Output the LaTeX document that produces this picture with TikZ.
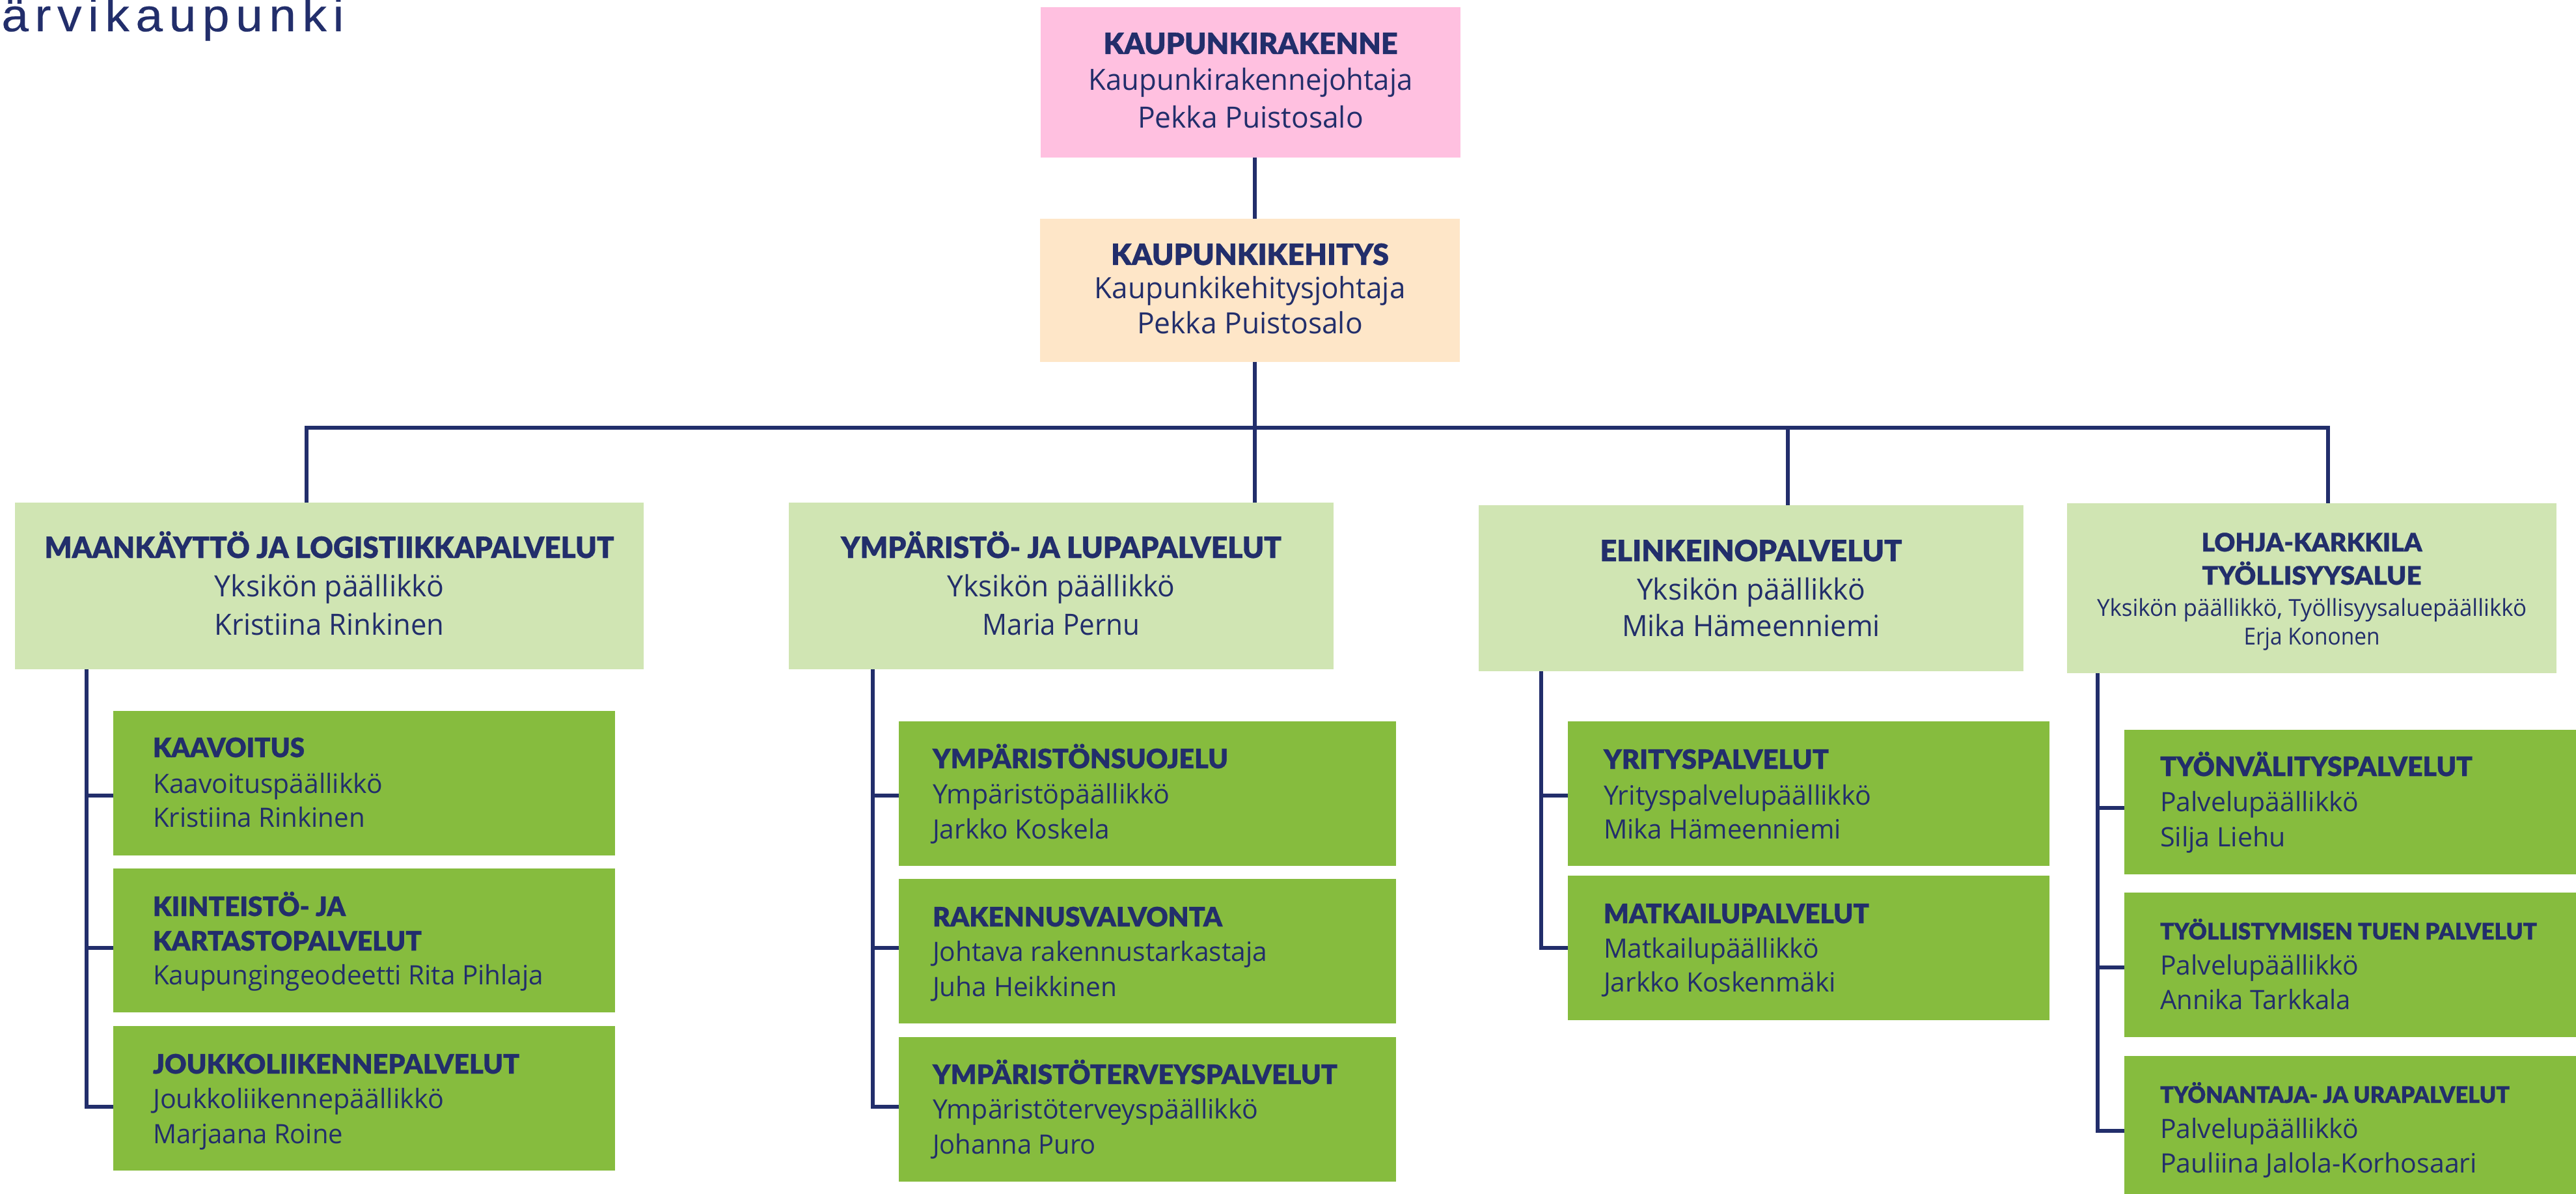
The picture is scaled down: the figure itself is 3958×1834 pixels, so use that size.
\documentclass[tikz,border=0pt]{standalone}
\usepackage{graphicx}
\usepackage{fontspec}
\newfontfamily\titlef[FakeBold=0.7]{Lato Black}
\newfontfamily\bodyf{Open Sans}
\newfontfamily\logof[LetterSpace=13,FakeBold=0.3]{Liberation Sans}
\definecolor{navy}{HTML}{222E6B}
\definecolor{pinkc}{HTML}{FFC0E0}
\definecolor{peachc}{HTML}{FEE6C8}
\definecolor{lightg}{HTML}{D0E5B3}
\definecolor{greenc}{HTML}{86BC3E}
\newdimen\pxu \pxu=0.5pt
\newcommand\tA{\fontsize{22.5}{27}\titlef}
\newcommand\bA{\fontsize{22.5}{27}\bodyf}
\newcommand\tB{\fontsize{20.5}{25}\titlef}
\newcommand\bB{\fontsize{20.5}{25}\bodyf}
\newcommand\tC{\fontsize{19.5}{24}\titlef}
\newcommand\bC{\fontsize{18}{22}\bodyf}
\newcommand\tD{\fontsize{17.5}{22}\titlef}
\def\lpad{55}
\newcommand\linC[4]{\hbox to\hsize{\hss\smash{\resizebox{#3\pxu}{\height}{#1\relax#4}}\hss\vrule height #2\pxu depth0pt width0pt}}
\newcommand\linL[4]{\hbox to\hsize{\hskip\lpad\pxu\smash{\resizebox{#3\pxu}{\height}{#1\relax#4}}\hss\vrule height #2\pxu depth0pt width0pt}}
\newcommand\orgbox[7]{%
  \pgfmathsetlengthmacro\bw{(#5-#3)*0.5pt}%
  \pgfmathsetlengthmacro\bh{(#6-#4)*0.5pt}%
  \node[#2] (#1) at (#3,#4) {\vbox to \bh{\hsize=\bw\offinterlineskip #7\vss}};}
\tikzset{
  base/.style={anchor=north west,inner sep=0pt,outer sep=0pt,text=navy},
  pinkbox/.style={base,fill=pinkc},
  peachbox/.style={base,fill=peachc},
  unitbox/.style={base,fill=lightg},
  subbox/.style={base,fill=greenc},
  conn/.style={draw=navy,line width=3.4pt,line join=miter}
}
\begin{document}
\begin{tikzpicture}[x=0.5pt,y=-0.5pt]
\useasboundingbox (0,0) rectangle (3958,1834);
\node[anchor=base west,inner sep=0pt,text=navy] (logo) at (2,48) {\resizebox{526\pxu}{\height}{\fontsize{35.5}{40}\logof ärvikaupunki}};

\orgbox{top}{pinkbox}{1599}{11}{2244}{242}{\linC\tA{72}{452}{KAUPUNKIRAKENNE}\linC\bA{56}{498}{Kaupunkirakennejohtaja}\linC\bA{58}{347}{Pekka Puistosalo}}
\orgbox{mid}{peachbox}{1598}{336}{2243}{556}{\linC\tA{71}{427}{KAUPUNKIKEHITYS}\linC\bA{52}{478}{Kaupunkikehitysjohtaja}\linC\bA{54}{347}{Pekka Puistosalo}}

\orgbox{ua}{unitbox}{23}{772}{989}{1028}{\linC\tA{85}{875}{MAANKÄYTTÖ JA LOGISTIIKKAPALVELUT}\linC\bA{59}{352}{Yksikön päällikkö}\linC\bA{59}{353}{Kristiina Rinkinen}}
\orgbox{ub}{unitbox}{1212}{772}{2049}{1028}{\linC\tA{85}{677}{YMPÄRISTÖ- JA LUPAPALVELUT}\linC\bA{59}{350}{Yksikön päällikkö}\linC\bA{59}{242}{Maria Pernu}}
\orgbox{uc}{unitbox}{2272}{776}{3109}{1031}{\linC\tA{86}{464}{ELINKEINOPALVELUT}\linC\bA{59}{351}{Yksikön päällikkö}\linC\bA{56}{397}{Mika Hämeenniemi}}
\orgbox{ud}{unitbox}{3176}{773}{3928}{1034}{\linC\tC{74}{339}{LOHJA-KARKKILA}\linC\tC{51}{337}{TYÖLLISYYSALUE}\linC\bC{48}{660}{Yksikön päällikkö, Työllisyysaluepäällikkö}\linC\bC{44}{209}{Erja Kononen}}

\def\lpad{61}
\orgbox{sa1}{subbox}{174}{1092}{945}{1314}{\linL\tB{71}{233}{KAAVOITUS}\linL\bB{55}{353}{Kaavoituspäällikkö}\linL\bB{52}{326}{Kristiina Rinkinen}}
\orgbox{sa2}{subbox}{174}{1334}{945}{1555}{\linL\tB{73}{296}{KIINTEISTÖ- JA}\linL\tB{53}{413}{KARTASTOPALVELUT}\linL\bB{52}{600}{Kaupungingeodeetti Rita Pihlaja}}
\orgbox{sa3}{subbox}{174}{1576}{945}{1798}{\linL\tB{73}{563}{JOUKKOLIIKENNEPALVELUT}\linL\bB{53}{447}{Joukkoliikennepäällikkö}\linL\bB{54}{292}{Marjaana Roine}}
\def\lpad{52}
\orgbox{sb1}{subbox}{1381}{1108}{2145}{1330}{\linL\tB{72}{454}{YMPÄRISTÖNSUOJELU}\linL\bB{54}{364}{Ympäristöpäällikkö}\linL\bB{54}{272}{Jarkko Koskela}}
\orgbox{sb2}{subbox}{1381}{1350}{2145}{1572}{\linL\tB{73}{445}{RAKENNUSVALVONTA}\linL\bB{53}{514}{Johtava rakennustarkastaja}\linL\bB{54}{283}{Juha Heikkinen}}
\orgbox{sb3}{subbox}{1381}{1593}{2145}{1815}{\linL\tB{72}{622}{YMPÄRISTÖTERVEYSPALVELUT}\linL\bB{53}{500}{Ympäristöterveyspäällikkö}\linL\bB{54}{251}{Johanna Puro}}
\def\lpad{55}
\orgbox{sc1}{subbox}{2409}{1108}{3149}{1330}{\linL\tB{73}{346}{YRITYSPALVELUT}\linL\bB{55}{411}{Yrityspalvelupäällikkö}\linL\bB{52}{365}{Mika Hämeenniemi}}
\orgbox{sc2}{subbox}{2409}{1345}{3149}{1567}{\linL\tB{73}{408}{MATKAILUPALVELUT}\linL\bB{53}{331}{Matkailupäällikkö}\linL\bB{52}{357}{Jarkko Koskenmäki}}
\orgbox{sd1}{subbox}{3264}{1121}{3958}{1343}{\linL\tB{71}{480}{TYÖNVÄLITYSPALVELUT}\linL\bB{54}{305}{Palvelupäällikkö}\linL\bB{54}{193}{Silja Liehu}}
\orgbox{sd2}{subbox}{3264}{1371}{3958}{1593}{\linL\tD{72}{579}{TYÖLLISTYMISEN TUEN PALVELUT}\linL\bB{54}{305}{Palvelupäällikkö}\linL\bB{53}{293}{Annika Tarkkala}}
\orgbox{sd3}{subbox}{3264}{1622}{3958}{1834}{\linL\tD{72}{537}{TYÖNANTAJA- JA URAPALVELUT}\linL\bB{54}{305}{Palvelupäällikkö}\linL\bB{53}{487}{Pauliina Jalola-Korhosaari}}

\coordinate (stem) at (1928,657);
\coordinate (busa) at (471,657);
\coordinate (busc) at (2747,657);
\coordinate (busd) at (3577,657);
\draw[conn] (top.south -| stem) -- (mid.north -| stem);
\draw[conn] (mid.south -| stem) -- (ub.north -| stem);
\draw[conn] (busa |- ua.north) -- (busa) -- (busd) -- (busd |- ud.north);
\draw[conn] (busc) -- (busc |- uc.north);

\coordinate (a1) at (133,1222); \coordinate (a2) at (133,1456); \coordinate (a3) at (133,1700);
\coordinate (b1) at (1341,1222); \coordinate (b2) at (1341,1456); \coordinate (b3) at (1341,1700);
\coordinate (c1) at (2368,1222); \coordinate (c2) at (2368,1456);
\coordinate (d1) at (3223,1241); \coordinate (d2) at (3223,1486); \coordinate (d3) at (3223,1737);

\draw[conn] (a1 |- ua.south) -- (a3) -- (a3 -| sa3.west);
\draw[conn] (a1) -- (a1 -| sa1.west);
\draw[conn] (a2) -- (a2 -| sa2.west);
\draw[conn] (b1 |- ub.south) -- (b3) -- (b3 -| sb3.west);
\draw[conn] (b1) -- (b1 -| sb1.west);
\draw[conn] (b2) -- (b2 -| sb2.west);
\draw[conn] (c1 |- uc.south) -- (c2) -- (c2 -| sc2.west);
\draw[conn] (c1) -- (c1 -| sc1.west);
\draw[conn] (d1 |- ud.south) -- (d3) -- (d3 -| sd3.west);
\draw[conn] (d1) -- (d1 -| sd1.west);
\draw[conn] (d2) -- (d2 -| sd2.west);
\end{tikzpicture}
\end{document}
